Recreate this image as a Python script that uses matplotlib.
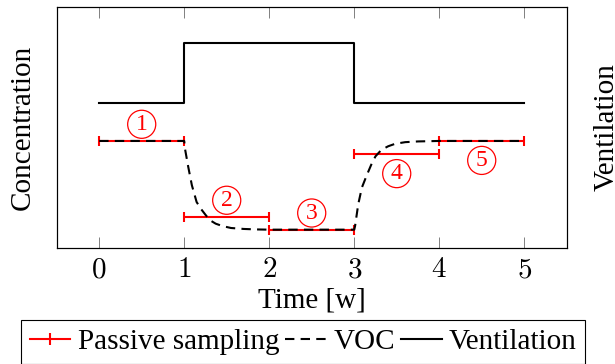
import matplotlib
matplotlib.use('Agg')
import matplotlib.pyplot as plt
from matplotlib.lines import Line2D

plt.rcParams['font.family'] = ['Liberation Serif', 'DejaVu Serif']
plt.rcParams['mathtext.fontset'] = 'cm'
plt.rcParams['font.size'] = 21

# ventilation (step curve)
vent_t = [0, 1, 3, 5]
vent_level = [0.60, 0.85, 0.60, 0.60]

# passive sampling periods
pass_start = [0, 1, 2, 3, 4]
pass_end = [1, 2, 3, 4, 5]
pass_level = [0.444, 0.128, 0.075, 0.389, 0.444]
pass_tags = ['1', '2', '3', '4', '5']
tag_above = [True, True, True, False, False]

# VOC concentration
voc_t = [0, 1.0, 1.01, 1.047, 1.09, 1.146, 1.2, 1.25, 1.3, 1.37, 1.45, 1.55,
         1.7, 1.85, 2.0, 3.0, 3.01, 3.047, 3.09, 3.146, 3.2, 3.25, 3.32, 3.4,
         3.48, 3.6, 3.75, 4.0, 5.0]
voc_c = [0.444, 0.444, 0.41, 0.337, 0.26, 0.19, 0.16, 0.137, 0.115, 0.10,
         0.09, 0.082, 0.078, 0.076, 0.075, 0.075, 0.09, 0.18, 0.25, 0.30,
         0.345, 0.38, 0.407, 0.422, 0.432, 0.439, 0.442, 0.444, 0.444]

ticks = [0, 1, 2, 3, 4, 5]

fig = plt.figure(figsize=(6.15, 3.64), dpi=100)
ax = fig.add_axes([0.0922, 0.3195, 0.8293, 0.6605])

centers = [(s + e) / 2 for s, e in zip(pass_start, pass_end)]
halfw = [(e - s) / 2 for s, e in zip(pass_start, pass_end)]
ax.errorbar(centers, pass_level, xerr=halfw, fmt='none', ecolor='red',
            elinewidth=1.5, capsize=3.6, capthick=1.5)
ax.plot(voc_t, voc_c, color='black', lw=1.5, ls=(0, (4.5, 3)))
ax.plot(vent_t, vent_level, drawstyle='steps-post', color='black', lw=1.5)

for c, lv, tag, up in zip(centers, pass_level, pass_tags, tag_above):
    ax.annotate(tag, xy=(c, lv), xytext=(0, 12 if up else -14),
                textcoords='offset points', ha='center', va='center',
                color='red', fontsize=17,
                bbox=dict(boxstyle='circle,pad=0.15', fc='none', ec='red', lw=0.9))

ax.set_xlim(-0.5, 5.5)
ax.set_ylim(0, 1)
ax.set_xticks(ticks)
ax.set_xticklabels([f'${t}$' for t in ticks])
ax.set_yticks([])
ax.tick_params(axis='x', direction='in', top=True, length=8, width=0.7,
               color='gray', pad=7)
for sp in ax.spines.values():
    sp.set_linewidth(0.8)

ax.set_xlabel('Time [w]', va='center')
ax.xaxis.set_label_coords(0.5, -0.22)
ax.set_ylabel('Concentration', va='center')
ax.yaxis.set_label_coords(-0.066, 0.5)

ax2 = ax.twinx()
ax2.set_yticks([])
ax2.set_ylabel('Ventilation', va='center')
ax2.yaxis.set_label_coords(1.079, 0.5)

h1 = Line2D([], [], color='red', lw=1.5, marker='|', ms=8, mew=1.5)
h2 = Line2D([], [], color='black', lw=1.5, ls=(0, (4.5, 3)))
h3 = Line2D([], [], color='black', lw=1.5)
leg = fig.legend([h1, h2, h3], ['Passive sampling', 'VOC', 'Ventilation'],
                 loc='upper left', bbox_to_anchor=(0.034, 0.121), ncol=3,
                 frameon=True, fancybox=False, edgecolor='black', framealpha=1,
                 borderaxespad=0, handlelength=1.4, handletextpad=0.25,
                 columnspacing=0.2, borderpad=0.3)
leg.get_frame().set_linewidth(0.8)

fig.savefig('out.png', dpi=100)
